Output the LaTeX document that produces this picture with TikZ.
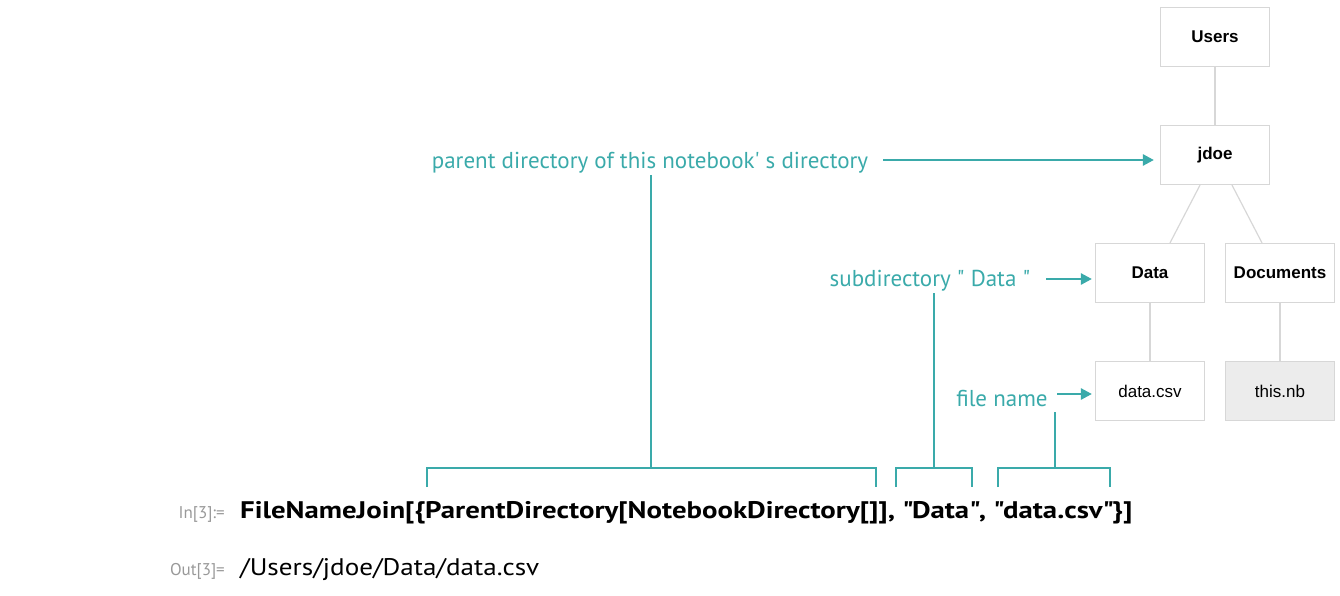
\documentclass[tikz,border=0pt]{standalone}
\usepackage{fontspec}
\setmainfont{PT Sans}
\newfontfamily\boxfont{Liberation Sans}
\newfontfamily\codefont{PT Sans}[FakeStretch=1.2]
\newfontfamily\resfont{PT Sans}[FakeStretch=1.13]
\usetikzlibrary{arrows.meta}
\definecolor{teal1}{RGB}{58,170,170}
\definecolor{edge}{RGB}{215,215,215}
\definecolor{nbfill}{RGB}{236,236,236}
\tikzset{
 tbox/.style={draw=edge,line width=1.2pt,minimum width=109pt,minimum height=59pt,font=\boxfont\fontsize{17}{20}\selectfont,inner sep=0pt},
 tline/.style={draw=edge,line width=1.2pt},
 lab/.style={text=teal1,font=\fontsize{23}{26}\selectfont,inner sep=0pt},
 arr/.style={draw=teal1,line width=2.5pt,-{Triangle[length=11pt,width=11pt]}},
 brk/.style={draw=teal1,line width=2.5pt},
 prompt/.style={anchor=base east,text=gray!80,font=\fontsize{17}{20}\selectfont,inner sep=0pt},
}
\begin{document}
\begin{tikzpicture}[x=1pt,y=-1pt]
\useasboundingbox (0,0) rectangle (1340,596);
\node[tbox] (users) at (1215,37) {\bfseries Users};
\node[tbox] (jdoe) at (1215,155) {\bfseries jdoe};
\node[tbox] (data) at (1150,273) {\bfseries Data};
\node[tbox] (docs) at (1280,273) {\bfseries Documents};
\node[tbox] (csv) at (1150,391) {data.csv};
\node[tbox,fill=nbfill] (nb) at (1280,391) {this.nb};
\draw[tline] (users) -- (jdoe);
\draw[tline] ([xshift=-15pt]jdoe.south) -- ([xshift=20pt]data.north);
\draw[tline] ([xshift=17pt]jdoe.south) -- ([xshift=-18pt]docs.north);
\draw[tline] (data) -- (csv);
\draw[tline] (docs) -- (nb);

\node[lab] (l1) at (650,163) {parent directory of this notebook\textquotesingle\ s directory};
\node[lab] (l2) at (930,281) {subdirectory \textquotedbl\ Data \textquotedbl};
\node[lab] (l3) at (1002,399) {file name};
\coordinate (a1) at (883,160);
\coordinate (a2) at (1046,279);
\coordinate (a3) at (1057,394);
\draw[arr] (a1) -- ([xshift=-6pt]jdoe.west |- a1);
\draw[arr] (a2) -- ([xshift=-3pt]data.west |- a2);
\draw[arr] (a3) -- ([xshift=-3pt]csv.west |- a3);

\coordinate (b1) at (651,468);
\coordinate (t1) at (651,175);
\draw[brk] (427,487) -- (427,468) -- (876,468) -- (876,487);
\draw[brk] (t1) -- (b1);
\coordinate (b2) at (934,468);
\draw[brk] (896,487) -- (896,468) -- (972,468) -- (972,487);
\draw[brk] (934,293) -- (b2);
\coordinate (b3) at (1055,468);
\draw[brk] (998,487) -- (998,468) -- (1110,468) -- (1110,487);
\draw[brk] (1055,412) -- (b3);

\node[prompt] (in) at (225,518) {In[3]:=};
\node[anchor=base west,font=\codefont\bfseries\fontsize{24}{28}\selectfont,inner sep=0pt] (code) at (240,518) {FileNameJoin[\{ParentDirectory[NotebookDirectory[]], \textquotedbl Data\textquotedbl, \textquotedbl data.csv\textquotedbl\}]};
\node[prompt] (out) at (225,575) {Out[3]=};
\node[anchor=base west,font=\resfont\fontsize{24}{28}\selectfont,inner sep=0pt] (res) at (240,575) {/Users/jdoe/Data/data.csv};
\end{tikzpicture}
\end{document}
